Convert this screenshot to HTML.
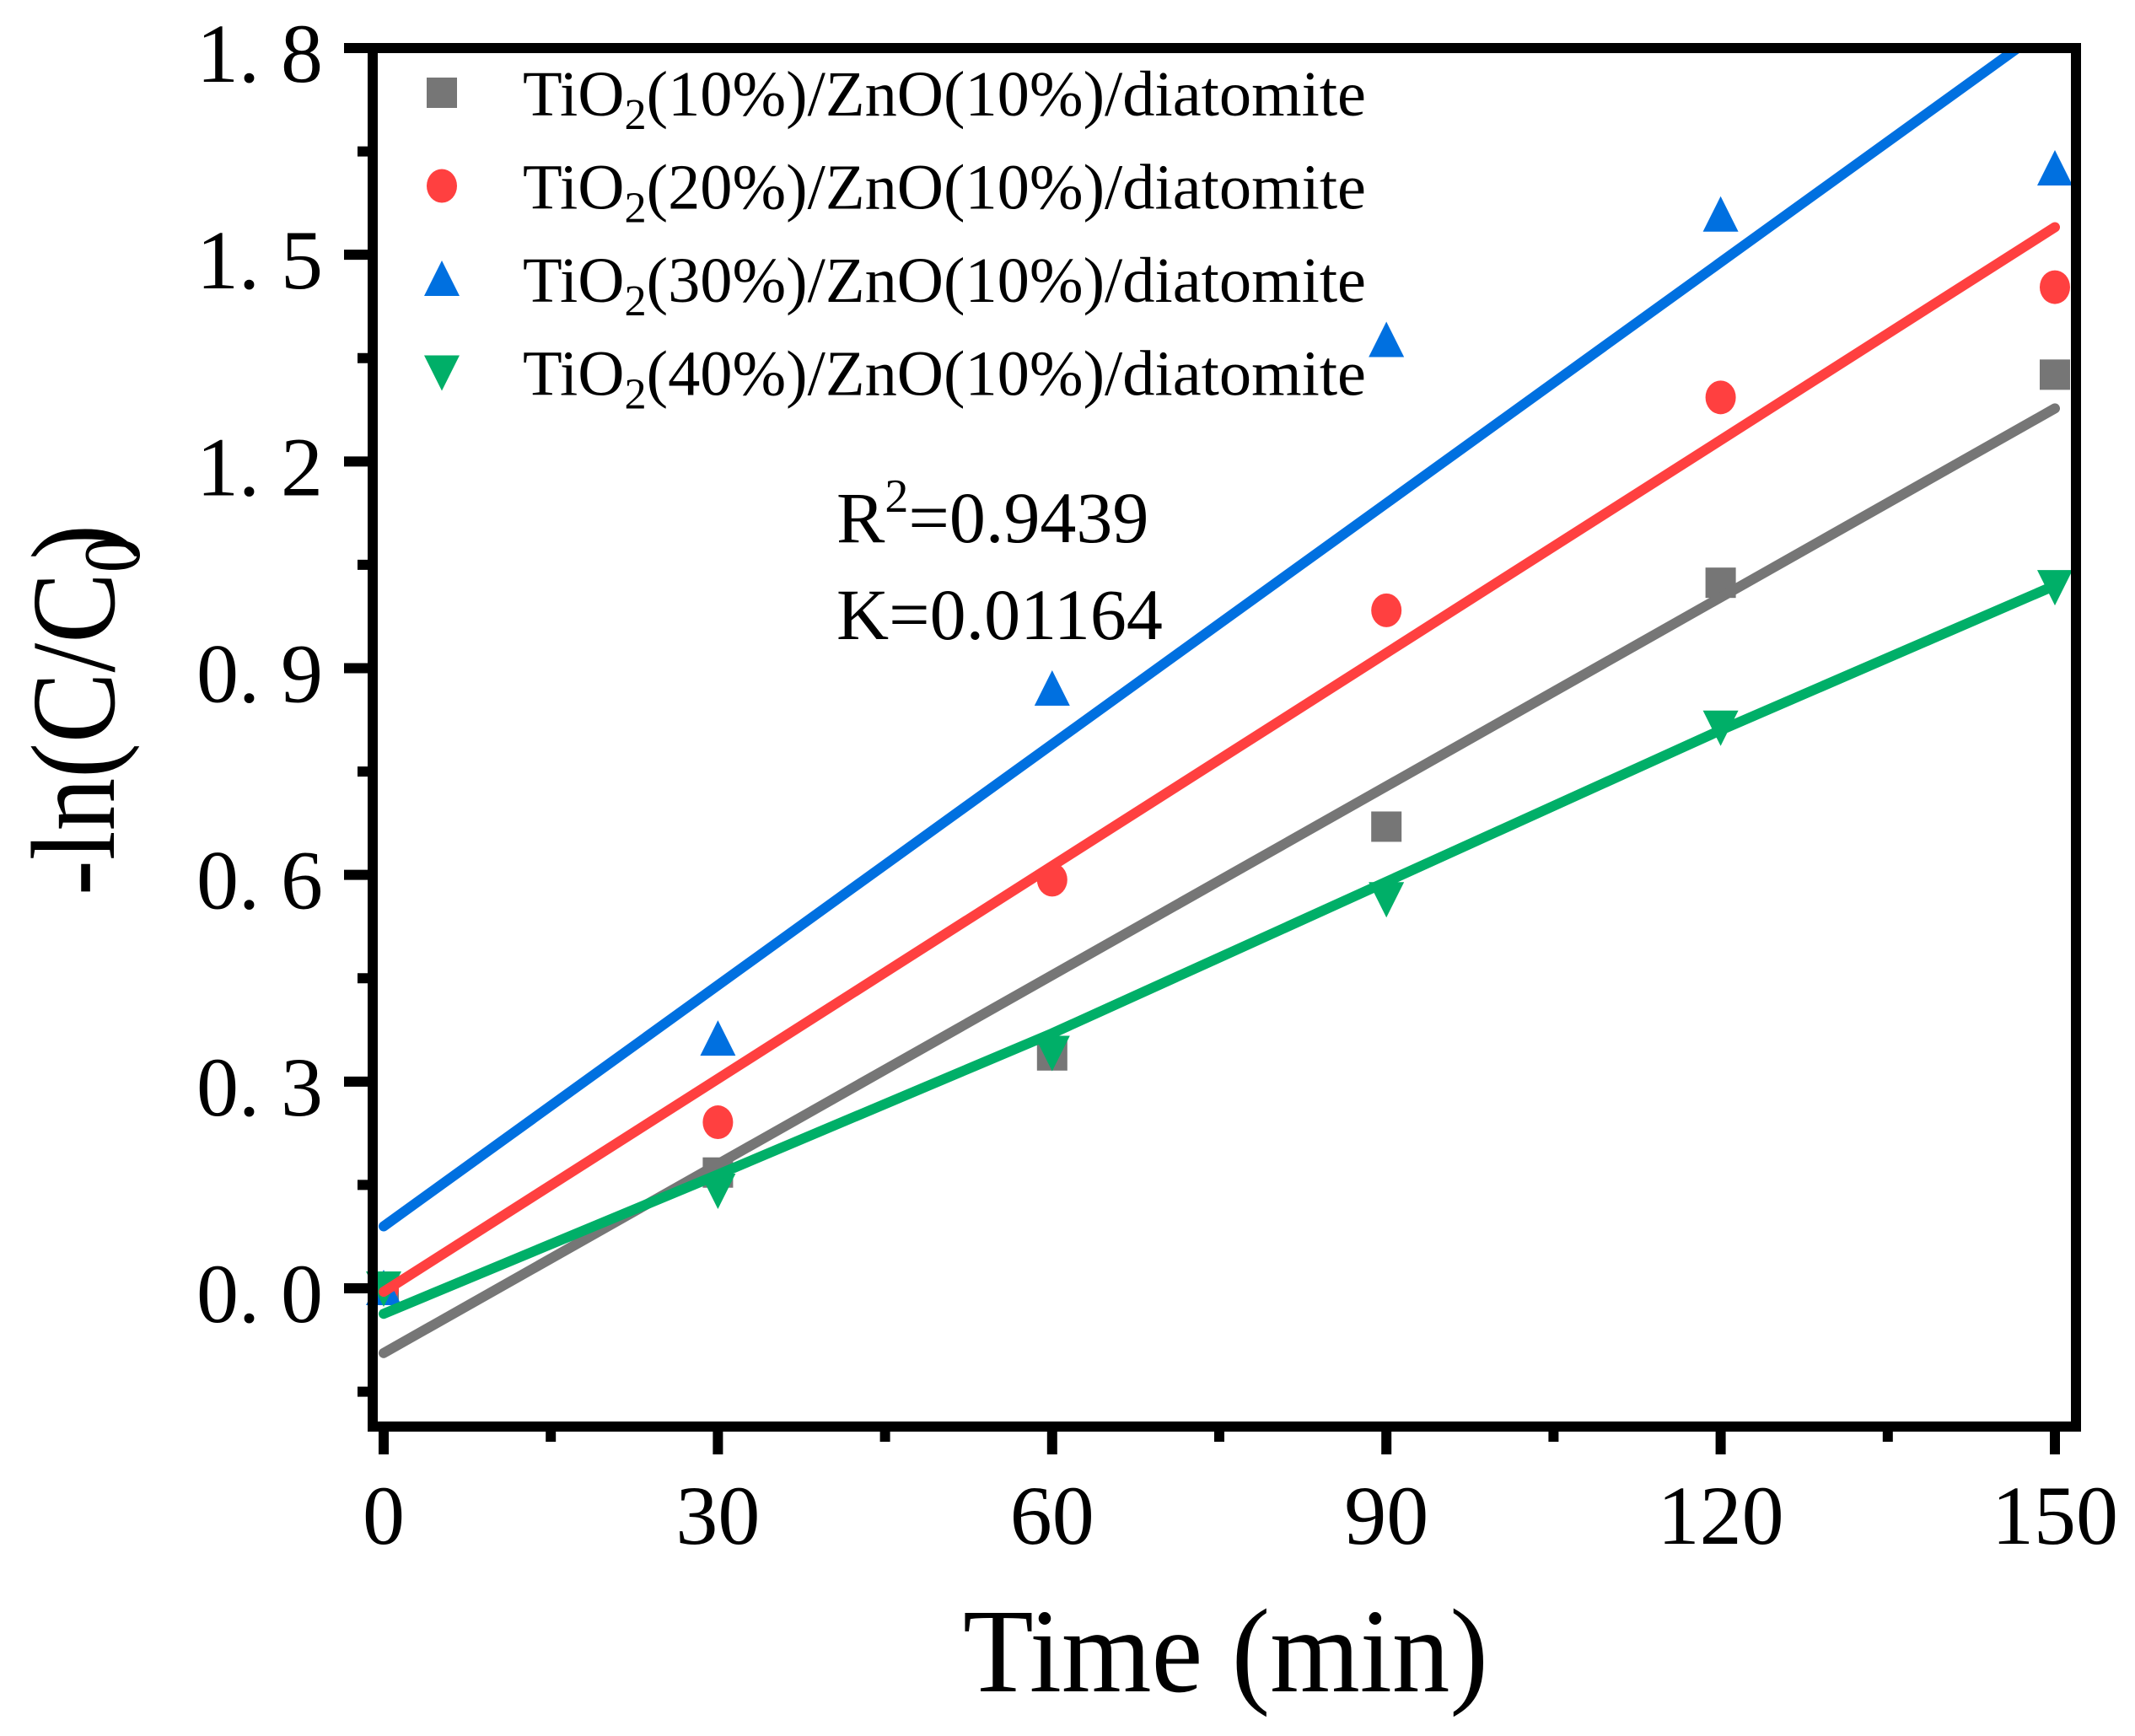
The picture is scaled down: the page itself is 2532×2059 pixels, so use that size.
<!DOCTYPE html>
<html><head><meta charset="utf-8"><style>
html,body{margin:0;padding:0;background:#fff;}
svg{display:block;font-family:"Liberation Serif","Times New Roman",serif;}
</style></head><body>
<svg id="chart" width="2532" height="2059" viewBox="0 0 2532 2059" xmlns="http://www.w3.org/2000/svg">
<g id="plot"></g>
<g id="axes"></g>
<text x="992" y="643" font-size="86">R<tspan dy="-36" font-size="56">2</tspan><tspan dy="36">=0.9439</tspan></text>
<text x="992" y="758" font-size="86">K=0.01164</text>
<text x="1142" y="2006" font-size="142" textLength="623" lengthAdjust="spacingAndGlyphs">Time (min)</text>
<text transform="translate(135,1062) rotate(-90)" font-size="142" textLength="440" lengthAdjust="spacingAndGlyphs">-ln(C/C<tspan dy="30" font-size="95">0</tspan><tspan dy="-30" dx="-30">)</tspan></text>
<g id="legend"></g>
</svg>
<script>
const times = [0, 30, 60, 90, 120, 150];
const grayValues = [0, 0.168, 0.338, 0.67, 1.024, 1.326];
const redValues = [0, 0.241, 0.593, 0.984, 1.293, 1.453];
const blueValues = [0, 0.362, 0.87, 1.376, 1.558, 1.625];
const greenValues = [0, 0.142, 0.342, 0.565, 0.814, 1.018];
const grayFit = [-0.094, 1.277];
const redFit = [-0.005, 1.54];
const blueFit = [0.09, 1.839];
const greenLine = [-0.037, 0.165, 0.37, 0.59, 0.81, 1.02];
const xTicks = [0, 30, 60, 90, 120, 150];
const xMinorTicks = [15, 45, 75, 105, 135];
const yTicks = [0, 0.3, 0.6, 0.9, 1.2, 1.5, 1.8];
const yMinorTicks = [-0.15, 0.15, 0.45, 0.75, 1.05, 1.35, 1.65];
const legendLabels = ["10%", "20%", "30%", "40%"];

const NS = "http://www.w3.org/2000/svg";
const L = 442, R = 2462, T = 57, B = 1692;
function xs(v){ return 455 + (v - 0) * (2437 - 455) / 150; }
function ys(v){ return 1528 - v * (1528 - 57) / 1.8; }
function mk(tag, attrs, parent){ const e = document.createElementNS(NS, tag); for (const k in attrs) e.setAttribute(k, attrs[k]); parent.appendChild(e); return e; }

const plot = document.getElementById('plot');
const axes = document.getElementById('axes');
const legend = document.getElementById('legend');
const defs = mk('defs', {}, plot);
const cp = mk('clipPath', {id: 'clip'}, defs);
mk('rect', {x: L, y: T, width: R - L, height: B - T}, cp);

const colors = {gray: '#767676', red: '#FF4040', blue: '#0070E0', green: '#00AF68'};

function marker(type, cx, cy, parent){
  let e;
  if (type === 'square') e = mk('rect', {x: cx - 18, y: cy - 18, width: 36, height: 36, fill: colors.gray}, parent);
  else if (type === 'circle') e = mk('ellipse', {cx: cx, cy: cy, rx: 18, ry: 20, fill: colors.red}, parent);
  else if (type === 'up') e = mk('polygon', {points: `${cx},${cy-22} ${cx+21},${cy+20} ${cx-21},${cy+20}`, fill: colors.blue}, parent);
  else e = mk('polygon', {points: `${cx-21},${cy-20} ${cx+21},${cy-20} ${cx},${cy+22}`, fill: colors.green}, parent);
  return e;
}

const series = [
  {name: 'gray', type: 'square', vals: grayValues},
  {name: 'red', type: 'circle', vals: redValues},
  {name: 'blue', type: 'up', vals: blueValues},
  {name: 'green', type: 'down', vals: greenValues}
];
series.forEach(s => {
  s.vals.forEach((v, i) => {
    const m = marker(s.type, xs(times[i]), ys(v), plot);
    
    
  });
});

const lg = mk('g', {'clip-path': 'url(#clip)'}, plot);
[['gray', grayFit], ['red', redFit], ['blue', blueFit]].forEach(([n, f]) => {
  const ln = mk('line', {x1: xs(0), y1: ys(f[0]), x2: xs(150), y2: ys(f[1]), stroke: colors[n], 'stroke-width': 12, 'stroke-linecap': 'round'}, lg);
  
  
});
const gp = mk('polyline', {points: greenLine.map((v, i) => xs(times[i]) + ',' + ys(v)).join(' '), fill: 'none', stroke: colors.green, 'stroke-width': 12, 'stroke-linecap': 'round', 'stroke-linejoin': 'round'}, lg);



const fr = mk('rect', {x: L, y: T, width: R - L, height: B - T, fill: 'none', stroke: '#000', 'stroke-width': 12}, axes);



xTicks.forEach(v => {
  const x = xs(v);
  const t = mk('line', {x1: x, y1: B, x2: x, y2: B + 33, stroke: '#000', 'stroke-width': 12}, axes);
  
  
  const lb = mk('text', {x: x, y: 1831, 'font-size': 100, 'text-anchor': 'middle'}, axes);
  lb.textContent = String(v);
  
  
});
xMinorTicks.forEach(v => {
  const t = mk('line', {x1: xs(v), y1: B, x2: xs(v), y2: B + 18, stroke: '#000', 'stroke-width': 12}, axes);
  
  
});
yTicks.forEach(v => {
  const y = ys(v);
  const t = mk('line', {x1: L - 34, y1: y, x2: L, y2: y, stroke: '#000', 'stroke-width': 12}, axes);
  
  
  const lb = mk('text', {x: 383, y: y + 40, 'font-size': 100, 'text-anchor': 'end'}, axes);
  lb.textContent = v.toFixed(1).replace('.', '. ');
  
  
});
yMinorTicks.forEach(v => {
  const t = mk('line', {x1: L - 18, y1: ys(v), x2: L, y2: ys(v), stroke: '#000', 'stroke-width': 12}, axes);
  
  
});

series.forEach((s, i) => {
  const cy = 110 + i * 110.5;
  const m = marker(s.type, 524, cy, legend);
  
  
  const tx = mk('text', {x: 620, y: cy + 27, 'font-size': 76, textLength: 1000, lengthAdjust: 'spacingAndGlyphs'}, legend);
  tx.innerHTML = 'TiO<tspan dy="16" font-size="52">2</tspan><tspan dy="-16">(' + legendLabels[i] + ')/ZnO(10%)/diatomite</tspan>';
  
  
});
</script>
</body></html>
